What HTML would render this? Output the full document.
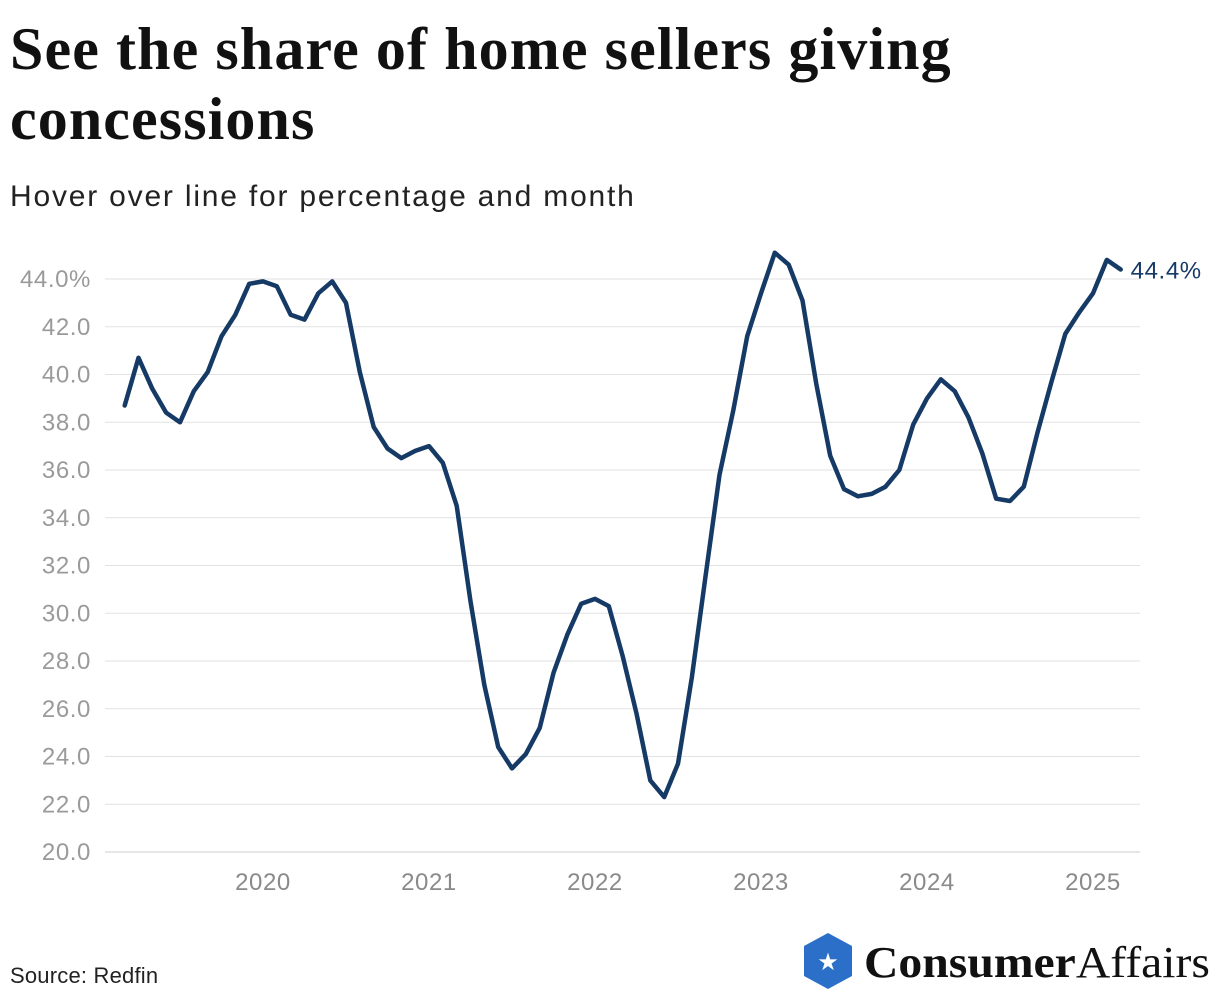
<!DOCTYPE html>
<html><head><meta charset="utf-8"><style>
body{margin:0;width:1220px;height:1002px;background:#fff;position:relative;overflow:hidden;font-family:"Liberation Sans",sans-serif}
h1{position:absolute;left:10px;top:14px;margin:0;font-family:"Liberation Serif",serif;font-weight:700;font-size:60px;line-height:70px;color:#111;letter-spacing:1.1px;width:1150px}
.sub{position:absolute;left:10px;top:180px;font-size:30px;letter-spacing:1.8px;color:#222}
.src{position:absolute;left:10px;top:963px;font-size:22px;letter-spacing:0.2px;color:#222}
</style></head><body>
<h1>See the share of home sellers giving<br>concessions</h1>
<div class="sub">Hover over line for percentage and month</div>
<div class="src">Source: Redfin</div>
<svg id="chart" width="1220" height="1002" style="position:absolute;left:0;top:0"></svg>
<svg width="420" height="70" style="position:absolute;left:800px;top:930px">
<polygon points="28,3 52,16 52,46 28,59 4,46 4,16" fill="#2b6fc9"/>
<text x="28" y="40" text-anchor="middle" font-size="24" fill="#fff">★</text>
<text x="64" y="47" font-family="Liberation Serif,serif" font-size="44" fill="#111" textLength="346" lengthAdjust="spacingAndGlyphs"><tspan font-weight="700">Consumer</tspan><tspan>Affairs</tspan></text>
</svg>
<script>
const values=[38.7,40.7,39.4,38.4,38.0,39.3,40.1,41.6,42.5,43.8,
43.9,43.7,42.5,42.3,43.4,43.9,43.0,40.1,37.8,36.9,
36.5,36.8,37.0,36.3,34.5,30.5,27.0,24.4,23.5,24.1,
25.2,27.5,29.1,30.4,30.6,30.3,28.2,25.8,23.0,22.3,
23.7,27.3,31.6,35.8,38.5,41.6,43.4,45.1,44.6,43.1,
39.6,36.6,35.2,34.9,35.0,35.3,36.0,37.9,39.0,39.8,
39.3,38.2,36.7,34.8,34.7,35.3,37.6,39.7,41.7,42.6,
43.4,44.8,44.4];
const yTicks=[20,22,24,26,28,30,32,34,36,38,40,42,44];
const xYears=[2020,2021,2022,2023,2024,2025];
const startIndexOffset=10; // index of Jan 2020
const svg=document.getElementById('chart');const NS='http://www.w3.org/2000/svg';
const y=v=>852-(v-20)*(573/24);
const xi=i=>263+(i-startIndexOffset)*(166/12);
const xy=yr=>263+(yr-2020)*166;
function mk(t,a){const e=document.createElementNS(NS,t);for(const k in a)e.setAttribute(k,a[k]);svg.appendChild(e);return e;}
yTicks.forEach(v=>{
 const g=mk('line',{x1:105,x2:1140,y1:y(v),y2:y(v),stroke:v===20?'#ccc':'#e2e2e2','stroke-width':1});
 
 
 const t=mk('text',{x:91,y:y(v)+8,'text-anchor':'end','font-size':24,'letter-spacing':0.6,fill:'#9a9a9a','font-family':'Liberation Sans,sans-serif'});
 t.textContent=v.toFixed(1)+(v===44?'%':'');
 
 
});
xYears.forEach(yr=>{
 const t=mk('text',{x:xy(yr),y:890,'text-anchor':'middle','font-size':24,'letter-spacing':0.6,fill:'#8a8a8a','font-family':'Liberation Sans,sans-serif'});
 t.textContent=yr;
 
 
});
const p=mk('path',{d:values.map((v,i)=>(i?'L':'M')+xi(i).toFixed(1)+','+y(v).toFixed(1)).join(''),fill:'none',stroke:'#163a66','stroke-width':4.5,'stroke-linejoin':'round','stroke-linecap':'round'});


const last=values.length-1;
const l=mk('text',{x:xi(last)+10,y:y(values[last])+9,'font-size':24,'letter-spacing':0.6,fill:'#163a66','font-family':'Liberation Sans,sans-serif'});
l.textContent=values[last].toFixed(1)+'%';


</script>
</body></html>
